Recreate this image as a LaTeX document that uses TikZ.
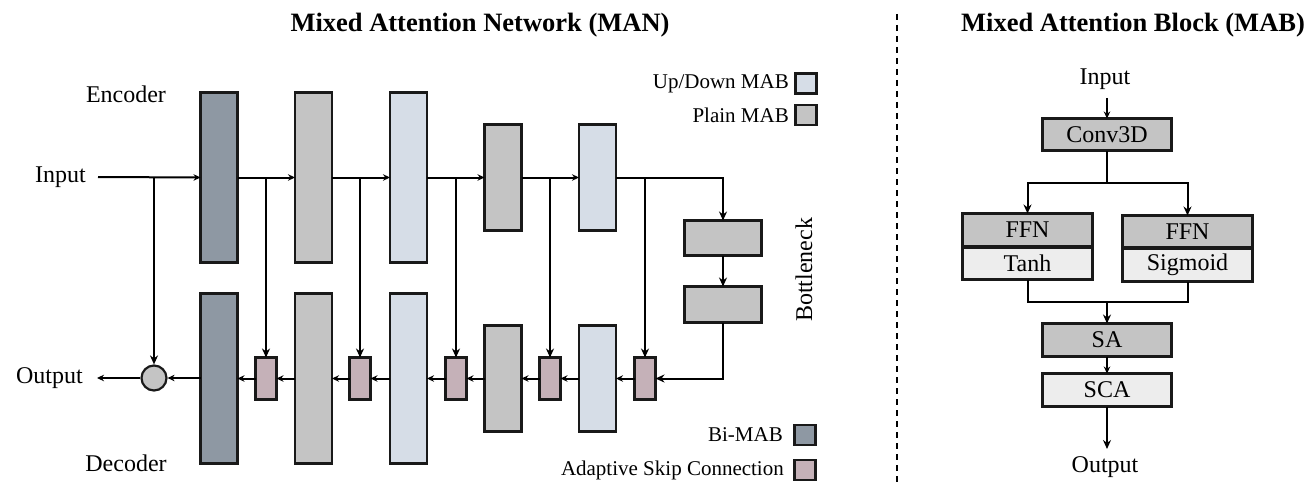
\documentclass[tikz,border=0pt]{standalone}
\usepackage{fontspec}
\setmainfont{Liberation Serif}
\usetikzlibrary{arrows.meta,calc}
\definecolor{bimab}{HTML}{8E98A3}
\definecolor{plainc}{HTML}{C4C4C4}
\definecolor{updown}{HTML}{D6DDE7}
\definecolor{ascc}{HTML}{C5B1B8}
\definecolor{lightc}{HTML}{EDEDED}
\begin{document}
\begin{tikzpicture}[x=1pt,y=-1pt,
  blk/.style={draw=black!90,line width=2.2pt,inner sep=0pt,outer sep=0pt},
  tall/.style={blk,minimum width=37pt,minimum height=170pt},
  mid/.style={blk,minimum width=37pt,minimum height=106pt},
  ascbox/.style={blk,fill=ascc,minimum width=21pt,minimum height=42pt},
  legbox/.style={blk,minimum width=21pt,minimum height=20pt},
  lab/.style={font=\fontsize{24}{28}\selectfont,inner sep=0pt},
  leg/.style={font=\fontsize{21}{24}\selectfont,inner sep=0pt,anchor=east},
  ttl/.style={font=\fontsize{26.5}{30}\selectfont\bfseries,inner sep=0pt},
  arr/.style={line width=2pt,-{Stealth[length=9pt,width=8pt]}},
  arrs/.style={line width=2pt,-{Stealth[length=7pt,width=6.5pt]}},
  ln/.style={line width=2pt},
  mb/.style={blk,minimum width=129pt,minimum height=33pt,font=\fontsize{24}{28}\selectfont},
]
\useasboundingbox (0,0) rectangle (1316,492);

% titles
\node[ttl] (t1) at (480,25) {Mixed Attention Network (MAN)};
\node[ttl] (t2) at (1133,25) {Mixed Attention Block (MAB)};
\coordinate (dl1) at (897,14);
\coordinate (dl2) at (897,482);
\draw[line width=1.8pt,dash pattern=on 6pt off 5pt] (dl1) -- (dl2);

% labels
\node[lab] (enc) at (126,94) {Encoder};
\node[lab] (dec) at (126,463) {Decoder};
\node[lab] (inp) at (60.5,177) {Input};
\node[lab] (outp) at (49.5,378) {Output};

% encoder
\node[tall,fill=bimab] (e1) at (219,177.5) {};
\node[tall,fill=plainc] (e2) at (313.5,177.5) {};
\node[tall,fill=updown] (e3) at (408.5,177.5) {};
\node[mid,fill=plainc] (e4) at (503,177.5) {};
\node[mid,fill=updown] (e5) at (597.5,177.5) {};
% decoder
\node[tall,fill=bimab] (d1) at (219,378.5) {};
\node[tall,fill=plainc] (d2) at (313.5,378.5) {};
\node[tall,fill=updown] (d3) at (408.5,378.5) {};
\node[mid,fill=plainc] (d4) at (503,378.5) {};
\node[mid,fill=updown] (d5) at (597.5,378.5) {};
% skip connections
\node[ascbox] (a1) at (266,378.5) {};
\node[ascbox] (a2) at (360,378.5) {};
\node[ascbox] (a3) at (456,378.5) {};
\node[ascbox] (a4) at (550,378.5) {};
\node[ascbox] (a5) at (645,378.5) {};
% bottleneck
\node[blk,fill=plainc,minimum width=77pt,minimum height=35pt] (b1) at (723,238) {};
\node[blk,fill=plainc,minimum width=77pt,minimum height=36pt] (b2) at (723,304.5) {};
\node[lab,rotate=90] (bn) at (804,270) {Bottleneck};
% merge circle
\node[draw=black!90,line width=2.2pt,circle,fill=plainc,minimum size=25pt,inner sep=0pt] (c) at (154,378) {};

% encoder path
\coordinate (istart) at (98,177);
\coordinate (oend) at (97,378);
\draw[arrs] (istart) -- (e1.west);
\draw[arrs] (e1.east) -- (e2.west);
\draw[arrs] (e2.east) -- (e3.west);
\draw[arrs] (e3.east) -- (e4.west);
\draw[arrs] (e4.east) -- (e5.west);
\draw[arr] (e5.east) -| (b1.north);
\draw[arr] (b1.south) -- (b2.north);
\draw[arr] (b2.south) |- (a5.east);
% branches
\draw[arr] (c.north |- istart) -- (c.north);
\draw[arr] (a1.north |- e1.east) -- (a1.north);
\draw[arr] (a2.north |- e2.east) -- (a2.north);
\draw[arr] (a3.north |- e3.east) -- (a3.north);
\draw[arr] (a4.north |- e4.east) -- (a4.north);
\draw[arr] (a5.north |- e5.east) -- (a5.north);
% decoder path
\draw[arrs] (a5.west) -- (d5.east |- a5.west);
\draw[arrs] (d5.west |- a5.west) -- (a4.east);
\draw[arrs] (a4.west) -- (d4.east |- a4.west);
\draw[arrs] (d4.west |- a4.west) -- (a3.east);
\draw[arrs] (a3.west) -- (d3.east |- a3.west);
\draw[arrs] (d3.west |- a3.west) -- (a2.east);
\draw[arrs] (a2.west) -- (d2.east |- a2.west);
\draw[arrs] (d2.west |- a2.west) -- (a1.east);
\draw[arrs] (a1.west) -- (d1.east |- a1.west);
\draw[arrs] (d1.west |- c.east) -- (c.east);
\draw[arrs] (c.west) -- (oend);

% legend
\node[legbox,fill=updown] (lg1) at (806,83.5) {};
\node[legbox,fill=plainc] (lg2) at (806,115) {};
\node[legbox,fill=bimab] (lg3) at (805,435) {};
\node[legbox,fill=ascc] (lg4) at (805,470) {};
\node[leg] (lt1) at (789,84) {Up/Down MAB};
\node[leg] (lt2) at (789,115) {Plain MAB};
\node[leg] (lt3) at (783,435) {Bi-MAB};
\node[leg] (lt4) at (784,470) {Adaptive Skip Connection};

% MAB
\node[lab] (inp2) at (1105,79) {Input};
\node[mb,fill=plainc,minimum height=32pt] (conv) at (1107,134.5) {Conv3D};
\node[mb,fill=plainc,minimum width=130pt] (ffnl) at (1027.5,230) {FFN};
\node[mb,fill=lightc,minimum width=130pt,minimum height=32pt] (tanh) at (1027.5,263.5) {Tanh};
\node[mb,fill=plainc,minimum width=130pt,minimum height=32pt] (ffnr) at (1187.5,231.5) {FFN};
\node[mb,fill=lightc,minimum width=130pt] (sig) at (1187.5,265) {Sigmoid};
\node[mb,fill=plainc] (sa) at (1107,340) {SA};
\node[mb,fill=lightc] (sca) at (1107,390) {SCA};
\node[lab] (out2) at (1105,467) {Output};
\coordinate (split) at (1107,183);
\coordinate (merge) at (1107,302);
\coordinate (in2s) at (1107,98);
\coordinate (out2e) at (1107,449);
\draw[arrs] (in2s) -- (conv.north);
\draw[ln] (conv.south) -- (split);
\draw[arr] (split) -| (ffnl.north);
\draw[arr] (split) -| (ffnr.north);
\draw[ln] (tanh.south) |- (merge) -| (sig.south);
\draw[arr] (merge) -- (sa.north);
\draw[arrs] (sa.south) -- (sca.north);
\draw[arr] (sca.south) -- (out2e);
\end{tikzpicture}
\end{document}
